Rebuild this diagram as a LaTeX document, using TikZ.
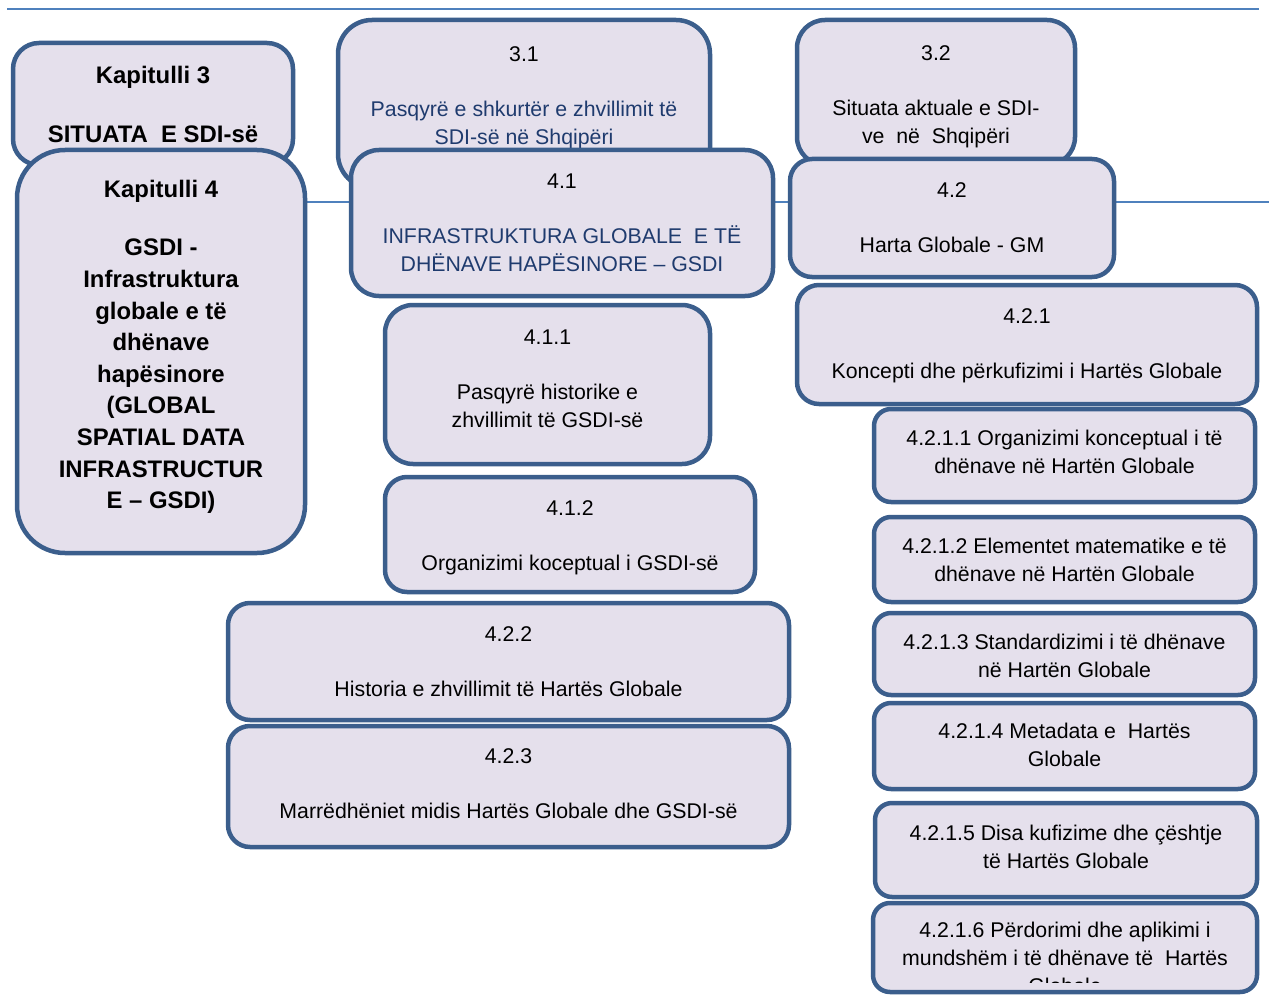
\documentclass[tikz,border=0pt]{standalone}
\usepackage{fontspec}
\setmainfont{Liberation Sans}
\definecolor{boxfill}{HTML}{E5E0EC}
\definecolor{boxline}{HTML}{3B5E8C}
\definecolor{ruleblue}{HTML}{4F81BD}
\definecolor{navytext}{HTML}{1F3B6E}

\tikzset{
  panel/.style={draw=boxline, fill=boxfill, line width=4.5pt, inner sep=0pt, outer sep=0pt},
  bodytext/.style={font=\fontsize{21.3}{28}\selectfont, align=center, anchor=north, inner sep=0pt, text=black},
  titletext/.style={font=\bfseries\fontsize{23.9}{31.6}\selectfont, align=center, anchor=north, inner sep=0pt, text=black},
  rule/.style={draw=ruleblue, line width=2pt}
}

% \panelbox{name}{left}{top}{right}{bottom}{corner radius}
\newcommand\panelbox[6]{%
  \node[panel, rounded corners=#6pt, minimum width={#4-#2}, minimum height={#5-#3}]
    (#1) at ({(#2+#4)/2},{(#3+#5)/2}) {};}

\begin{document}
\begin{tikzpicture}[x=1pt, y=-1pt]
\useasboundingbox (0,0) rectangle (1269,995);

% horizontal rules
\coordinate (ruleAstart) at (7,9);
\coordinate (ruleAend) at (1259,9);
\coordinate (ruleBstart) at (100,202);
\coordinate (ruleBend) at (1269,202);
\draw[rule] (ruleAstart) -- (ruleAend);
\draw[rule] (ruleBstart) -- (ruleBend);

% chapter 3 row
\panelbox{kap3}{13}{43}{293}{165}{26}
\node[titletext] (kap3t) at (153,60.9) {\strut Kapitulli 3\\[27.4pt] SITUATA~~E SDI-së};

\panelbox{s31}{338}{20}{710}{188}{34}
\node[bodytext] (s31t) at (524,41.4) {\strut 3.1\\[27pt]
  \textcolor{navytext}{Pasqyrë e shkurtër e zhvillimit të}\\
  \textcolor{navytext}{SDI-së në Shqipëri}};

\panelbox{s32}{797}{20}{1075}{165}{28}
\node[bodytext] (s32t) at (936,40.4) {\strut 3.2\\[27pt] Situata aktuale e SDI-\\ ve~~në~~Shqipëri};

% chapter 4
\panelbox{kap4}{17}{150}{305}{553}{48}
\node[titletext] (kap4t) at (161,174.9) {\strut Kapitulli 4\\[27.1pt] GSDI -\\ Infrastruktura\\ globale e të\\ dhënave\\ hapësinore\\ (GLOBAL\\ SPATIAL DATA\\ INFRASTRUCTUR\\ E – GSDI)};

\panelbox{s41}{351}{150}{773}{296}{28}
\node[bodytext] (s41t) at (562,168.4) {\strut 4.1\\[27pt]
  \textcolor{navytext}{INFRASTRUKTURA GLOBALE~~E TË}\\
  \textcolor{navytext}{DHËNAVE HAPËSINORE – GSDI}};

\panelbox{s42}{790}{159}{1114}{277}{22}
\node[bodytext] (s42t) at (952,177.4) {\strut 4.2\\[27pt] Harta Globale - GM};

\panelbox{s421}{797}{285}{1257}{404}{22}
\node[bodytext] (s421t) at (1027,303.4) {\strut 4.2.1\\[27pt] Koncepti dhe përkufizimi i Hartës Globale};

\panelbox{s411}{385}{305}{710}{464}{28}
\node[bodytext] (s411t) at (547.5,324.4) {\strut 4.1.1\\[27pt] Pasqyrë historike e\\ zhvillimit të GSDI-së};

\panelbox{s412}{385}{477}{755}{592}{22}
\node[bodytext] (s412t) at (570,495.4) {\strut 4.1.2\\[27pt] Organizimi koceptual i GSDI-së};

\panelbox{s422}{228}{603}{789}{720}{22}
\node[bodytext] (s422t) at (508.5,621.4) {\strut 4.2.2\\[27pt] Historia e zhvillimit të Hartës Globale};

\panelbox{s423}{228}{726}{789}{847}{22}
\node[bodytext] (s423t) at (508.5,743.4) {\strut 4.2.3\\[27pt] Marrëdhëniet midis Hartës Globale dhe GSDI-së};

% subsections of 4.2.1
\panelbox{s4211}{874}{409}{1255}{502}{17}
\node[bodytext] (s4211t) at (1064.5,425.4) {\strut 4.2.1.1 Organizimi konceptual i të\\ dhënave në Hartën Globale};

\panelbox{s4212}{874}{517}{1255}{602}{17}
\node[bodytext] (s4212t) at (1064.5,533.4) {\strut 4.2.1.2 Elementet matematike e të\\ dhënave në Hartën Globale};

\panelbox{s4213}{874}{613}{1255}{695}{17}
\node[bodytext] (s4213t) at (1064.5,629.4) {\strut 4.2.1.3 Standardizimi i të dhënave\\ në Hartën Globale};

\panelbox{s4214}{874}{703}{1255}{789}{17}
\node[bodytext] (s4214t) at (1064.5,718.4) {\strut 4.2.1.4 Metadata e~~Hartës\\ Globale};

\panelbox{s4215}{875}{803}{1257}{897}{17}
\node[bodytext] (s4215t) at (1066,820.4) {\strut 4.2.1.5 Disa kufizime dhe çështje\\ të Hartës Globale};

% last box: its third line runs past the box and is cut at the inner edge
\panelbox{s4216}{873}{903}{1257}{992}{17}
\begin{scope}
  \clip (873,903) rectangle (1257,982);
  \node[bodytext] (s4216t) at (1065,917.4) {\strut 4.2.1.6 Përdorimi dhe aplikimi i\\ mundshëm i të dhënave të~~Hartës\\ Globale};
\end{scope}

\end{tikzpicture}
\end{document}
